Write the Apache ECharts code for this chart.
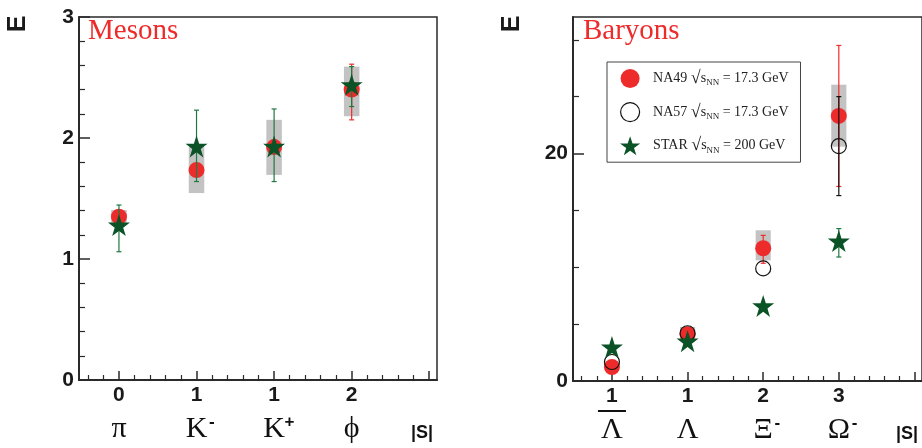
<!DOCTYPE html>
<html><head><meta charset="utf-8">
<script src="https://cdn.jsdelivr.net/npm/echarts@6/dist/echarts.min.js"></script>
<style>html,body{margin:0;padding:0;background:#fff}#c{width:922px;height:448px}</style>
</head><body><div id="c"></div>
<script>
// ---- categories / tick labels ----
const mesonSym = ['π', 'K', 'K', 'ϕ'];
const mesonSup = ['', '-', '+', ''];
const mesonS = [0, 1, 1, 2];
const baryonSym = ['Λ', 'Λ', 'Ξ', 'Ω'];
const baryonSup = ['', '', '-', '-'];
const baryonAnti = [true, false, false, false];
const baryonS = [1, 1, 2, 3];

// ---- Mesons ----
const na49Meson = [1.35, 1.735, 1.925, 2.40];
const na49MesonSysLo = [1.29, 1.545, 1.695, 2.18];
const na49MesonSysHi = [1.405, 1.925, 2.15, 2.59];
const na49MesonErrLo = [null, null, null, 2.15];
const na49MesonErrHi = [null, null, null, 2.61];
const starMeson = [1.28, 1.93, 1.93, 2.44];
const starMesonErrLo = [1.06, 1.64, 1.64, 2.26];
const starMesonErrHi = [1.446, 2.23, 2.24, 2.59];

// ---- Baryons ----
const na49Baryon = [1.23, 4.1, 11.67, 23.3];
const na49BaryonSysLo = [null, 3.6, 10.6, 20.6];
const na49BaryonSysHi = [null, 4.75, 13.25, 26.05];
const na49BaryonErrLo = [null, null, 10.35, 17.1];
const na49BaryonErrHi = [null, null, 12.8, 29.5];
const na57Baryon = [1.67, 4.2, 9.9, 20.65];
const na57BaryonErrLo = [null, null, null, 16.3];
const na57BaryonErrHi = [null, null, null, 25.0];
const starBaryon = [2.98, 3.5, 6.6, 12.3];
const starBaryonErrLo = [null, null, null, 10.9];
const starBaryonErrHi = [null, null, null, 13.4];

// ---- legend ----
const legendNames = ['NA49', 'NA57', 'STAR'];
const legendEnergy = ['17.3', '17.3', '200'];

// ---- axis ticks ----
const mesonYTicks = [0, 1, 2, 3];
const baryonYTicks = [0, 20];
const baryonYMinor = [5, 10, 15, 25, 30];

const RED = '#ee2b2b', GREEN = '#0b5326', GREY = '#c3c3c3', AX = '#2a2a2a';
const STAR = 'path://M50,0 L61.8,35.1 L98.9,35.1 L68.9,56.8 L80.3,91.9 L50,70.2 L19.7,91.9 L31.1,56.8 L1.1,35.1 L38.2,35.1 Z';

const xMajor = [0, 1, 2, 3, 4];
const xMinor = [];
for (let k = -2; k <= 20; k++) { if (k % 5 !== 0) xMinor.push(k / 5); }
const mesonYMinor = [];
for (let k = 1; k < 15; k++) { if (k % 5 !== 0) mesonYMinor.push(k / 5); }

const idx = [0, 1, 2, 3];
const pts = arr => idx.filter(i => arr[i] != null).map(i => [i, arr[i]]);
const rng = (lo, hi) => idx.filter(i => lo[i] != null).map(i => [i, lo[i], hi[i]]);

function boxRender(params, api) {
  const x = api.value(0), lo = api.value(1), hi = api.value(2);
  const p1 = api.coord([x - 0.1, hi]);
  const p2 = api.coord([x + 0.1, lo]);
  return { type: 'rect', shape: { x: p1[0], y: p1[1], width: p2[0] - p1[0], height: p2[1] - p1[1] }, style: { fill: GREY } };
}
function errRender(color, w) {
  return function (params, api) {
    const x = api.value(0);
    const a = api.coord([x, api.value(1)]);
    const b = api.coord([x, api.value(2)]);
    const st = { stroke: color, lineWidth: w };
    return { type: 'group', children: [
      { type: 'line', shape: { x1: a[0], y1: a[1], x2: b[0], y2: b[1] }, style: st },
      { type: 'line', shape: { x1: a[0] - 2.5, y1: a[1], x2: a[0] + 2.5, y2: a[1] }, style: st },
      { type: 'line', shape: { x1: b[0] - 2.5, y1: b[1], x2: b[0] + 2.5, y2: b[1] }, style: st }
    ] };
  };
}

const labelRich = {
  n: { fontFamily: 'Liberation Sans', fontWeight: 'bold', fontSize: 21, lineHeight: 22, color: '#1a1a1a' },
  sp: { fontSize: 1, lineHeight: 8, height: 8 },
  bar: { fontSize: 1, lineHeight: 8, width: 28, height: 2, backgroundColor: '#111' },
  p: { fontFamily: 'Liberation Serif', fontSize: 30, lineHeight: 30, color: '#111' },
  sup: { fontFamily: 'Liberation Sans', fontWeight: 'bold', fontSize: 17, lineHeight: 12, verticalAlign: 'top', color: '#111', width: 9 },
  hs: { fontSize: 1, width: 9 }
};
function catFormatter(sArr, symArr, supArr, antiArr) {
  return function (v) {
    const i = Math.round(v);
    if (i < 0 || i > 3) return '';
    const mid = antiArr && antiArr[i] ? '{bar| }' : '{sp| }';
    const sup = supArr[i] ? '{sup|' + supArr[i] + '}' : '';
    const pre = supArr[i] ? '{hs| }' : '';
    return '{n|' + sArr[i] + '}\n' + mid + '\n' + pre + '{p|' + symArr[i] + '}' + sup;
  };
}

function mainX(gi, sArr, symArr, supArr, antiArr) {
  return {
    gridIndex: gi, type: 'value', min: -0.515, max: 4.1, position: 'bottom',
    axisLine: { show: true, onZero: false, lineStyle: { color: AX, width: 2 } },
    axisTick: { show: true, inside: true, length: 9, customValues: xMajor, lineStyle: { color: AX, width: 1.5 } },
    axisLabel: { show: true, customValues: [0, 1, 2, 3], margin: 4, formatter: catFormatter(sArr, symArr, supArr, antiArr), rich: labelRich },
    splitLine: { show: false },
    name: '|S|', nameLocation: 'end', nameGap: -4,
    nameTextStyle: { fontFamily: 'Liberation Sans', fontWeight: 'bold', fontSize: 18, color: '#111', align: 'right', verticalAlign: 'top', padding: [44, 0, 0, 0] }
  };
}
function minorX(gi) {
  return {
    gridIndex: gi, type: 'value', min: -0.515, max: 4.1, position: 'bottom',
    axisLine: { show: false, onZero: false }, axisLabel: { show: false }, splitLine: { show: false },
    axisTick: { show: true, inside: true, length: 5, customValues: xMinor, lineStyle: { color: AX, width: 1.2 } }
  };
}
function mainY(gi, max, ticks) {
  return {
    gridIndex: gi, type: 'value', min: 0, max: max, position: 'left',
    axisLine: { show: true, onZero: false, lineStyle: { color: AX, width: 2 } },
    axisTick: { show: true, inside: true, length: 11, customValues: ticks, lineStyle: { color: AX, width: 1.5 } },
    axisLabel: { show: true, customValues: ticks, margin: 5, padding: [10, 0, 0, 0], fontFamily: 'Liberation Sans', fontWeight: 'bold', fontSize: 21, color: '#1a1a1a' },
    splitLine: { show: false }
  };
}
function minorY(gi, max, ticks) {
  return {
    gridIndex: gi, type: 'value', min: 0, max: max, position: 'left',
    axisLine: { show: false, onZero: false }, axisLabel: { show: false }, splitLine: { show: false },
    axisTick: { show: true, inside: true, length: 6, customValues: ticks, lineStyle: { color: AX, width: 1.2 } }
  };
}

const chart = echarts.init(document.getElementById('c'), null, { renderer: 'canvas' });
const titleStyle = { fontFamily: 'Liberation Serif', fontSize: 29, fontWeight: 'normal', color: RED };

chart.setOption({
  animation: false,
  backgroundColor: '#fff',
  title: [
    { text: 'Mesons', left: 88, top: 17, padding: 0, textStyle: titleStyle },
    { text: 'Baryons', left: 583, top: 17, padding: 0, textStyle: titleStyle }
  ],
  graphic: [
    { type: 'text', x: 18.5, y: 24, rotation: Math.PI / 2, style: { text: 'E', fontFamily: 'Liberation Sans', fontWeight: 'bold', fontSize: 25, fill: '#1a1a1a', align: 'center', verticalAlign: 'middle' } },
    { type: 'text', x: 512.5, y: 24, rotation: Math.PI / 2, style: { text: 'E', fontFamily: 'Liberation Sans', fontWeight: 'bold', fontSize: 25, fill: '#1a1a1a', align: 'center', verticalAlign: 'middle' } }
  ],
  grid: [
    { left: 79, top: 17, width: 358, height: 363, show: true, borderColor: AX, borderWidth: 1.5, backgroundColor: 'transparent' },
    { left: 573, top: 17, width: 358, height: 364, show: true, borderColor: AX, borderWidth: 1.5, backgroundColor: 'transparent' }
  ],
  xAxis: [
    mainX(0, mesonS, mesonSym, mesonSup, null),
    minorX(0),
    mainX(1, baryonS, baryonSym, baryonSup, baryonAnti),
    minorX(1)
  ],
  yAxis: [
    mainY(0, 3, mesonYTicks),
    minorY(0, 3, mesonYMinor),
    mainY(1, 32, baryonYTicks),
    minorY(1, 32, baryonYMinor)
  ],
  legend: {
    orient: 'vertical', left: 607, top: 62, padding: [7, 12, 7, 13], itemGap: 14,
    itemWidth: 36, itemHeight: 19, borderColor: '#444', borderWidth: 1, backgroundColor: '#fff',
    selectedMode: false,
    data: [
      { name: 'NA49', icon: 'circle', itemStyle: { color: RED } },
      { name: 'NA57', icon: 'circle', itemStyle: { color: '#fff', borderColor: '#111', borderWidth: 1.2 } },
      { name: 'STAR', icon: STAR, itemStyle: { color: GREEN } }
    ],
    formatter: function (name) {
      const i = legendNames.indexOf(name);
      return name + ' {rt|√}{s|s}{sub|NN} = ' + legendEnergy[i] + ' GeV';
    },
    textStyle: {
      fontFamily: 'Liberation Serif', fontSize: 14, color: '#222',
      rich: {
        rt: { fontFamily: 'Liberation Serif', fontSize: 18, color: '#222' },
        s: { fontFamily: 'Liberation Serif', fontSize: 14, color: '#222' },
        sub: { fontFamily: 'Liberation Serif', fontSize: 9, lineHeight: 10, verticalAlign: 'bottom', color: '#222' }
      }
    }
  },
  series: [
    // mesons
    { name: 'NA49 sys', type: 'custom', xAxisIndex: 0, yAxisIndex: 0, renderItem: boxRender, data: rng(na49MesonSysLo, na49MesonSysHi), z: 1 },
    { name: 'NA49 err', type: 'custom', xAxisIndex: 0, yAxisIndex: 0, renderItem: errRender(RED, 1.2), data: rng(na49MesonErrLo, na49MesonErrHi), z: 2 },
    { name: 'NA49', type: 'scatter', xAxisIndex: 0, yAxisIndex: 0, symbol: 'circle', symbolSize: 16, itemStyle: { color: RED, opacity: 1 }, data: pts(na49Meson), z: 3 },
    { name: 'STAR err', type: 'custom', xAxisIndex: 0, yAxisIndex: 0, renderItem: errRender('#1d7a40', 1.2), data: rng(starMesonErrLo, starMesonErrHi), z: 6 },
    { name: 'STAR', type: 'scatter', xAxisIndex: 0, yAxisIndex: 0, symbol: STAR, symbolSize: 22, itemStyle: { color: GREEN, opacity: 1 }, data: pts(starMeson), z: 7 },
    // baryons
    { name: 'NA49 sys', type: 'custom', xAxisIndex: 2, yAxisIndex: 2, renderItem: boxRender, data: rng(na49BaryonSysLo, na49BaryonSysHi), z: 1 },
    { name: 'NA49 err', type: 'custom', xAxisIndex: 2, yAxisIndex: 2, renderItem: errRender(RED, 1.2), data: rng(na49BaryonErrLo, na49BaryonErrHi), z: 2 },
    { name: 'NA49', type: 'scatter', xAxisIndex: 2, yAxisIndex: 2, symbol: 'circle', symbolSize: 16, itemStyle: { color: RED, opacity: 1 }, data: pts(na49Baryon), z: 3 },
    { name: 'NA57 err', type: 'custom', xAxisIndex: 2, yAxisIndex: 2, renderItem: errRender('#111', 1.2), data: rng(na57BaryonErrLo, na57BaryonErrHi), z: 4 },
    { name: 'NA57', type: 'scatter', xAxisIndex: 2, yAxisIndex: 2, symbol: 'circle', symbolSize: 15, itemStyle: { color: 'rgba(0,0,0,0)', borderColor: '#111', borderWidth: 1.2, opacity: 1 }, data: pts(na57Baryon), z: 5 },
    { name: 'STAR err', type: 'custom', xAxisIndex: 2, yAxisIndex: 2, renderItem: errRender('#1d7a40', 1.2), data: rng(starBaryonErrLo, starBaryonErrHi), z: 6 },
    { name: 'STAR', type: 'scatter', xAxisIndex: 2, yAxisIndex: 2, symbol: STAR, symbolSize: 22, itemStyle: { color: GREEN, opacity: 1 }, data: pts(starBaryon), z: 7 }
  ]
});
</script>
</body></html>
